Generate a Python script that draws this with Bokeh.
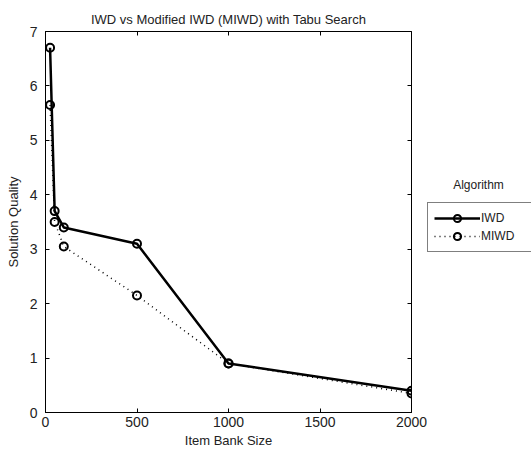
from bokeh.plotting import figure
from bokeh.layouts import row
from bokeh.models import Legend, LegendItem, LinearAxis, Label, FixedTicker, Range1d, CustomJSTickFormatter
from bokeh.embed import file_html
from bokeh.resources import INLINE

item_bank_size = [25, 50, 100, 500, 1000, 2000]
iwd_quality = [6.7, 3.7, 3.4, 3.1, 0.9, 0.4]
miwd_quality = [5.65, 3.5, 3.05, 2.15, 0.9, 0.35]
x_ticks = [0, 500, 1000, 1500, 2000]
y_ticks = [0, 1, 2, 3, 4, 5, 6, 7]
series_names = ["IWD", "MIWD"]

FONT = "Liberation Sans"
H = 453
TOP, BOTTOM = 31, 41

p = figure(width=427, height=H, output_backend="svg", toolbar_location=None,
           x_range=Range1d(0, 2000), y_range=Range1d(0, 7),
           min_border_left=45, min_border_right=16, min_border_top=TOP, min_border_bottom=BOTTOM)
p.title.text = "IWD vs Modified IWD (MIWD) with Tabu Search"
p.title.align = "center"
p.title.offset = -5
p.title.text_font = FONT
p.title.text_font_size = "13px"
p.title.text_font_style = "normal"
p.title.text_color = "#222222"
p.grid.visible = False
p.outline_line_color = "black"
p.outline_line_width = 1

for ax in (p.xaxis[0], p.yaxis[0]):
    ax.major_tick_in = 4
    ax.major_tick_out = 0
    ax.minor_tick_in = 0
    ax.minor_tick_out = 0
    ax.major_label_text_font = FONT
    ax.major_label_text_font_size = "14px"
    ax.major_label_text_color = "#222222"
    ax.axis_label_text_font = FONT
    ax.axis_label_text_font_size = "13px"
    ax.axis_label_text_font_style = "normal"
    ax.axis_label_text_color = "#222222"
    ax.axis_line_color = "black"
p.xaxis[0].ticker = FixedTicker(ticks=x_ticks)
p.yaxis[0].ticker = FixedTicker(ticks=y_ticks)
p.xaxis[0].axis_label = "Item Bank Size"
p.yaxis[0].axis_label = "Solution Quality"
p.xaxis[0].axis_label_standoff = 3
p.yaxis[0].axis_label_standoff = 6
p.xaxis[0].major_label_standoff = 4
p.yaxis[0].major_label_standoff = 8

blank = CustomJSTickFormatter(code="return ''")
top = LinearAxis(ticker=FixedTicker(ticks=x_ticks), formatter=blank,
                 major_tick_in=4, major_tick_out=0, minor_tick_in=0, minor_tick_out=0,
                 axis_line_color=None, major_label_standoff=0)
right = LinearAxis(ticker=FixedTicker(ticks=y_ticks), formatter=blank,
                   major_tick_in=4, major_tick_out=0, minor_tick_in=0, minor_tick_out=0,
                   axis_line_color=None, major_label_standoff=0)
p.add_layout(top, "above")
p.add_layout(right, "right")

p.line(item_bank_size, miwd_quality, line_color="black", line_width=1.5, line_dash="1 4")
p.scatter(item_bank_size, miwd_quality, marker="circle", size=8, fill_color=None,
          line_color="black", line_width=2)
p.line(item_bank_size, iwd_quality, line_color="black", line_width=2.5)
p.scatter(item_bank_size, iwd_quality, marker="circle", size=8, fill_color=None,
          line_color="black", line_width=2)

# legend panel (hidden copies of the series feed the legend glyphs)
p2 = figure(width=104, height=H, output_backend="svg", toolbar_location=None,
            x_range=Range1d(0, 104), y_range=Range1d(0, H - TOP - BOTTOM),
            x_axis_type=None, y_axis_type=None,
            min_border_left=0, min_border_right=0, min_border_top=TOP, min_border_bottom=BOTTOM)
p2.grid.visible = False
p2.outline_line_color = None

il = p2.line(item_bank_size, iwd_quality, line_color="black", line_width=2.5, visible=False)
ic = p2.scatter(item_bank_size, iwd_quality, marker="circle", size=8, fill_color=None,
                line_color="black", line_width=2, visible=False)
ml = p2.line(item_bank_size, miwd_quality, line_color="black", line_width=1.5, line_dash="1 4",
             visible=False)
mc = p2.scatter(item_bank_size, miwd_quality, marker="circle", size=8, fill_color=None,
                line_color="black", line_width=2, visible=False)

legend = Legend(items=[LegendItem(label=series_names[0], renderers=[il, ic]),
                       LegendItem(label=series_names[1], renderers=[ml, mc])],
                location=(0, 160), label_text_font=FONT, label_text_font_size="12px",
                label_text_color="#222222",
                border_line_color="black", border_line_width=1,
                glyph_width=46, glyph_height=18, label_height=18, label_width=60,
                label_standoff=1, padding=6, spacing=0, margin=0,
                inactive_fill_alpha=0, background_fill_alpha=1)
p2.add_layout(legend)

p2.add_layout(Label(x=51, y=228, text="Algorithm", text_align="center",
                    text_baseline="middle", text_font=FONT, text_font_size="12px",
                    text_color="#222222"))

open("out.html", "w").write(file_html(row(p, p2), INLINE))
